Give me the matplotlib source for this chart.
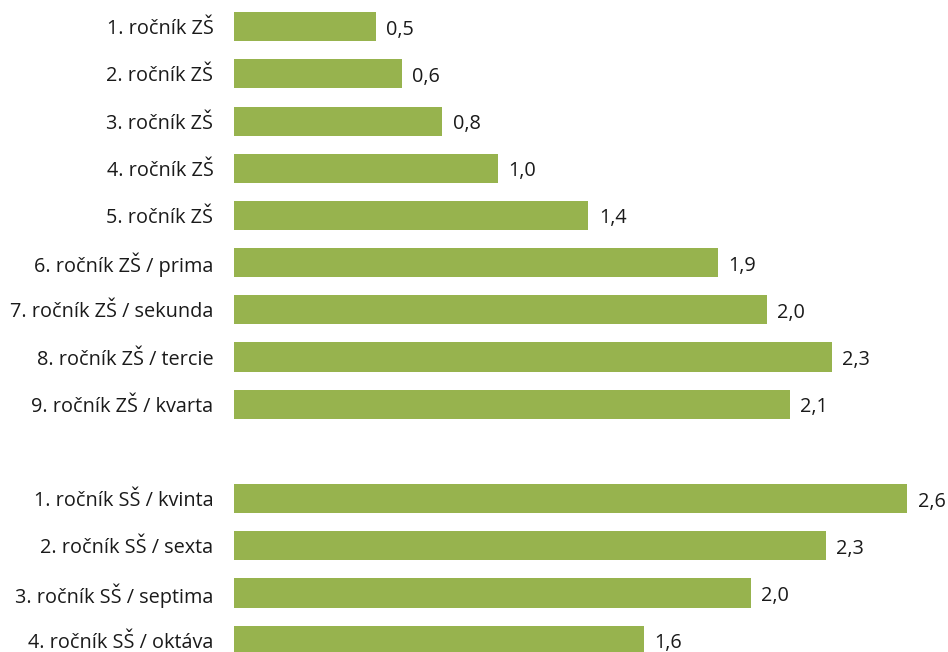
import matplotlib
matplotlib.use("Agg")
from matplotlib import pyplot as plt

plt.rcParams['font.family'] = ['Open Sans', 'DejaVu Sans']

categories = ["1. ročník ZŠ", "2. ročník ZŠ", "3. ročník ZŠ", "4. ročník ZŠ",
              "5. ročník ZŠ", "6. ročník ZŠ / prima", "7. ročník ZŠ / sekunda",
              "8. ročník ZŠ / tercie", "9. ročník ZŠ / kvarta",
              "1. ročník SŠ / kvinta", "2. ročník SŠ / sexta",
              "3. ročník SŠ / septima", "4. ročník SŠ / oktáva"]
values = [0.544, 0.644, 0.80, 1.013, 1.362, 1.860, 2.048, 2.298, 2.137,
          2.588, 2.275, 1.987, 1.577]

green = "#97B34E"

# empty slot between ZŠ and SŠ groups
pos = [i if i < 9 else i + 1 for i in range(len(values))]

fig = plt.figure(figsize=(9.48, 6.52), dpi=100)
left = 234.3 / 948
ax = fig.add_axes([left, 0, 1 - left, 1])

ax.barh(pos, values, height=0.615, color=green)
for p, v in zip(pos, values):
    ax.annotate(f"{v:.1f}".replace(".", ","), (v, p), xytext=(7.5, -2.2),
                textcoords="offset points", va="center", ha="left",
                fontsize=14.3, color="#1a1a1a")

ax.set_yticks(pos)
ax.set_yticklabels(categories, fontsize=14.3, color="#1a1a1a")
ax.tick_params(axis="y", length=0, pad=15)
ax.set_xticks([])
ax.set_ylim(13.25, -0.564)
ax.set_xlim(0, (948 - 234.3) / 260)
for s in ax.spines.values():
    s.set_visible(False)

fig.savefig("out.png", dpi=100)
